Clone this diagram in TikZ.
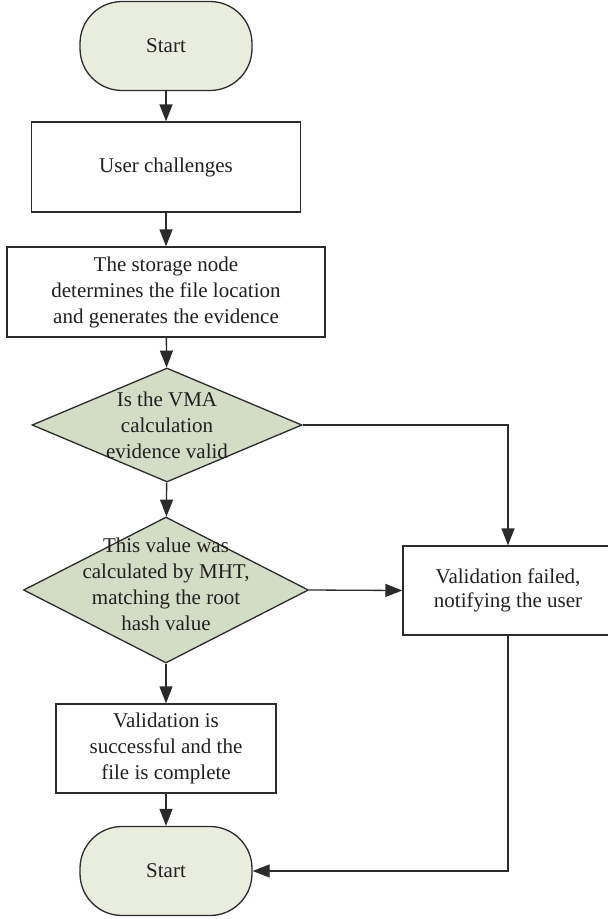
\documentclass[tikz,border=0pt]{standalone}
\usepackage{fontspec}
\setmainfont{Liberation Serif}
\usetikzlibrary{arrows.meta,shapes.geometric}

\definecolor{termfill}{HTML}{E9EDDE}
\definecolor{decfill}{HTML}{D3DDC6}
\definecolor{ink}{HTML}{231F20}
\definecolor{wire}{HTML}{2B2B2B}

\tikzset{
  every node/.style={font=\fontsize{21}{26}\selectfont, text=ink, align=center},
  term/.style={draw=wire, line width=1.3pt, fill=termfill, rounded corners=42pt,
               minimum width=172pt, minimum height=89pt, inner sep=0pt},
  proc/.style={draw=wire, line width=1.3pt, fill=white, rectangle, inner sep=0pt},
  decision/.style={draw=wire, line width=1.3pt, fill=decfill, diamond, inner sep=0pt},
  flow/.style={draw=wire, line width=1.3pt, -{Triangle[length=17pt,width=13pt]}},
  plain/.style={draw=wire, line width=1.3pt}
}

\begin{document}
\begin{tikzpicture}[x=1pt, y=-1pt]
  \useasboundingbox (0,0) rectangle (608,919);
  \clip (0,0) rectangle (608,919);

  % terminals
  \node[term] (start) at (166,46) {Start};
  \node[term] (stop)  at (166,871) {Start};

  % process boxes
  \node[proc, minimum width=269pt, minimum height=90pt] (uc) at (166,167) {User challenges};
  \node[proc, minimum width=318pt, minimum height=90pt] (sn) at (166,292)
    {The storage node\\determines the file location\\and generates the evidence};
  \node[proc, minimum width=220pt, minimum height=89pt] (ok) at (166,748.5)
    {Validation is\\successful and the\\file is complete};
  \node[proc, minimum width=210pt, minimum height=89pt, font=\fontsize{21}{24}\selectfont]
    (fail) at (508,590.5) {Validation failed,\\notifying the user};

  % decisions (shape and text kept apart so the text may overhang the outline)
  \node[decision, minimum width=270pt, minimum height=114pt] (d1) at (167,425) {};
  \node at (d1.center) {Is the VMA\\calculation\\evidence valid};
  \node[decision, minimum width=285pt, minimum height=146pt] (d2) at (166,590) {};
  \node at ([yshift=6pt]d2.center) {This value was\\calculated by MHT,\\matching the root\\hash value};

  % main path
  \draw[flow] (start) -- (uc);
  \draw[flow] (uc) -- (sn);
  \draw[flow] (sn) -- (d1);
  \draw[flow] (d1) -- (d2);
  \draw[flow] (d2) -- (ok);
  \draw[flow] (ok) -- (stop);

  % failure branches
  \draw[flow] (d1.east) -| (fail.north);
  \draw[flow] (d2.east) -- (fail.west);
  \draw[flow] (fail.south) |- (stop.east);
\end{tikzpicture}
\end{document}
